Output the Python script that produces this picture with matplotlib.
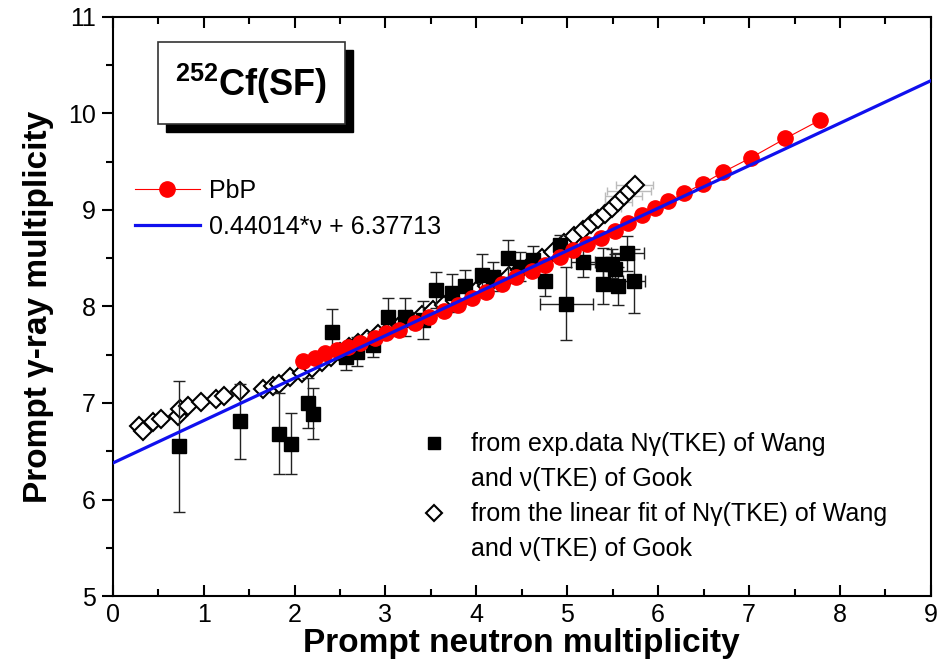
import numpy as np
import matplotlib
matplotlib.use('Agg')
import matplotlib.pyplot as plt
from matplotlib.lines import Line2D
from matplotlib.ticker import MultipleLocator

plt.rcParams['font.family'] = ['Liberation Sans', 'DejaVu Sans']
plt.rcParams['mathtext.fontset'] = 'custom'
plt.rcParams['mathtext.rm'] = 'Liberation Sans'
plt.rcParams['mathtext.bf'] = 'Liberation Sans:bold'

# PbP calculation
pbp_nu = [2.09, 2.22, 2.34, 2.47, 2.59, 2.72, 2.88, 3.01, 3.15, 3.32, 3.48, 3.64,
          3.80, 3.95, 4.11, 4.28, 4.44, 4.61, 4.76, 4.92, 5.06, 5.22, 5.37, 5.52,
          5.67, 5.82, 5.96, 6.11, 6.28, 6.49, 6.71, 7.02, 7.40, 7.78]
pbp_ng = [7.43, 7.47, 7.52, 7.55, 7.58, 7.62, 7.67, 7.72, 7.76, 7.83, 7.89, 7.95,
          8.02, 8.09, 8.15, 8.23, 8.30, 8.37, 8.43, 8.51, 8.58, 8.65, 8.71, 8.78,
          8.86, 8.95, 9.02, 9.09, 9.17, 9.27, 9.39, 9.54, 9.74, 9.93]

# linear fit
slope = 0.44014
intercept = 6.37713

# from exp. data (squares)
exp_nu = [0.73, 1.40, 1.83, 1.96, 2.15, 2.20, 2.41, 2.57, 2.69, 2.86, 3.03, 3.21,
          3.41, 3.56, 3.73, 3.87, 4.06, 4.18, 4.35, 4.48, 4.62, 4.75, 4.92, 4.99,
          5.17, 5.39, 5.39, 5.49, 5.53, 5.56, 5.66, 5.73]
exp_ng = [6.55, 6.81, 6.68, 6.58, 7.00, 6.89, 7.74, 7.48, 7.53, 7.60, 7.89, 7.89,
          7.86, 8.17, 8.14, 8.21, 8.33, 8.31, 8.50, 8.41, 8.48, 8.26, 8.64, 8.03,
          8.46, 8.44, 8.23, 8.44, 8.39, 8.21, 8.55, 8.26]
exp_ng_err = [0.68, 0.39, 0.42, 0.32, 0.26, 0.26, 0.23, 0.14, 0.15, 0.12, 0.20, 0.20,
              0.20, 0.19, 0.20, 0.17, 0.21, 0.15, 0.19, 0.15, 0.15, 0.15, 0.10, 0.38,
              0.15, 0.17, 0.20, 0.15, 0.15, 0.20, 0.18, 0.33]
exp_nu_err = [0.03, 0.03, 0.03, 0.03, 0.03, 0.03, 0.03, 0.03, 0.03, 0.03, 0.03, 0.03,
              0.03, 0.03, 0.03, 0.03, 0.03, 0.03, 0.03, 0.03, 0.03, 0.03, 0.03, 0.29,
              0.13, 0.14, 0.03, 0.03, 0.03, 0.03, 0.18, 0.12]

# from linear fit of Ngamma(TKE) (diamonds)
fit_nu = [0.29, 0.33, 0.44, 0.53, 0.72, 0.74, 0.83, 0.97, 1.14, 1.22, 1.40, 1.65,
          1.76, 1.83, 1.95, 2.08, 2.19, 2.30, 2.40, 2.50, 2.60, 2.70, 2.80, 2.92,
          3.04, 3.16, 3.28, 3.40, 3.52, 3.64, 3.76, 3.88, 4.00, 4.12, 4.24, 4.36,
          4.48, 4.60, 4.72, 4.84, 4.96, 5.07, 5.17, 5.26, 5.34, 5.42, 5.49, 5.56,
          5.62, 5.68, 5.74]
fit_ng = [6.76, 6.71, 6.80, 6.83, 6.87, 6.94, 6.97, 7.01, 7.04, 7.07, 7.12, 7.14,
          7.18, 7.20, 7.27, 7.31, 7.36, 7.42, 7.48, 7.53, 7.58, 7.62, 7.66, 7.71,
          7.76, 7.81, 7.86, 7.91, 7.96, 8.01, 8.06, 8.11, 8.16, 8.21, 8.27, 8.32,
          8.38, 8.44, 8.50, 8.56, 8.66, 8.73, 8.79, 8.85, 8.91, 8.96, 9.02, 9.08,
          9.14, 9.20, 9.26]
fit_nu_err = [0.05] * 46 + [0.1, 0.15, 0.2, 0.24, 0.2]

fig = plt.figure(figsize=(9.47, 6.72), dpi=100)
ax = fig.add_axes([0.119, 0.113, 0.864, 0.862])

# diamonds with light gray error bars
ax.errorbar(fit_nu, fit_ng, xerr=fit_nu_err, yerr=0.03, fmt='none', ecolor='#bbbbbb',
            elinewidth=1, capsize=3, zorder=2)
ax.plot(fit_nu, fit_ng, 'D', ms=9, mfc='white', mec='black', mew=1.5, zorder=3)

# squares with error bars
ax.errorbar(exp_nu, exp_ng, xerr=exp_nu_err, yerr=exp_ng_err, fmt='none', ecolor='#222222',
            elinewidth=1, capsize=4, zorder=4)
sq, = ax.plot(exp_nu, exp_ng, 's', ms=9.5, color='black', zorder=5)

# PbP
pbp, = ax.plot(pbp_nu, pbp_ng, '-o', color='red', lw=0.8, ms=11, mec='red', zorder=6)

# linear fit line
xl = np.array([0, 9])
fitl, = ax.plot(xl, slope * xl + intercept, color='#1010ee', lw=2.3, zorder=7)

ax.set_xlim(0, 9)
ax.set_ylim(5, 11)
ax.xaxis.set_major_locator(MultipleLocator(1))
ax.xaxis.set_minor_locator(MultipleLocator(0.5))
ax.yaxis.set_major_locator(MultipleLocator(1))
ax.yaxis.set_minor_locator(MultipleLocator(0.5))
ax.tick_params(axis='x', which='both', direction='in', top=True, labelsize=18, width=1.5, pad=5)
ax.tick_params(axis='x', which='major', length=8)
ax.tick_params(axis='x', which='minor', length=5)
ax.tick_params(axis='y', which='both', direction='out', labelsize=18, width=1.5, pad=4)
ax.tick_params(axis='y', which='major', length=8)
ax.tick_params(axis='y', which='minor', length=5)
for s in ax.spines.values():
    s.set_linewidth(1.5)

ax.set_xlabel('Prompt neutron multiplicity', fontsize=24, fontweight='bold', labelpad=1)
ax.set_ylabel('Prompt \u03b3-ray multiplicity', fontsize=24, fontweight='bold', labelpad=10)

# title box with shadow
shadow = plt.Rectangle((0.065, 0.801), 0.2286, 0.142, transform=ax.transAxes,
                       color='black', zorder=9)
box = plt.Rectangle((0.055, 0.815), 0.2286, 0.142, transform=ax.transAxes,
                    fc='white', ec='#333333', lw=1.2, zorder=10)
ax.add_patch(shadow)
ax.add_patch(box)
ax.text(0.169, 0.884, r'$\mathbf{^{252}}$Cf(SF)', transform=ax.transAxes, fontsize=26,
        fontweight='bold', ha='center', va='center', zorder=11)

leg1 = ax.legend([pbp, fitl], ['PbP', '0.44014*\u03bd + 6.37713'], loc='upper left',
                 bbox_to_anchor=(0.015, 0.738), frameon=False, fontsize=18,
                 handlelength=2.6, handletextpad=0.35, labelspacing=0.48, borderaxespad=0)
ax.add_artist(leg1)

dia = Line2D([], [], marker='D', ls='none', ms=8, mfc='white', mec='black', mew=1.5)
sqh = Line2D([], [], marker='s', ls='none', ms=9, color='black')
blank = Line2D([], [], ls='none')
ax.legend([sqh, blank, dia, blank],
          ['from exp.data N\u03b3(TKE) of Wang', 'and \u03bd(TKE) of Gook',
           'from the linear fit of N\u03b3(TKE) of Wang', 'and \u03bd(TKE) of Gook'],
          loc='upper left', bbox_to_anchor=(0.365, 0.30), frameon=False, fontsize=18,
          handlelength=1.0, handletextpad=1.0, labelspacing=0.44, borderaxespad=0)

fig.savefig('out.png', dpi=100)
